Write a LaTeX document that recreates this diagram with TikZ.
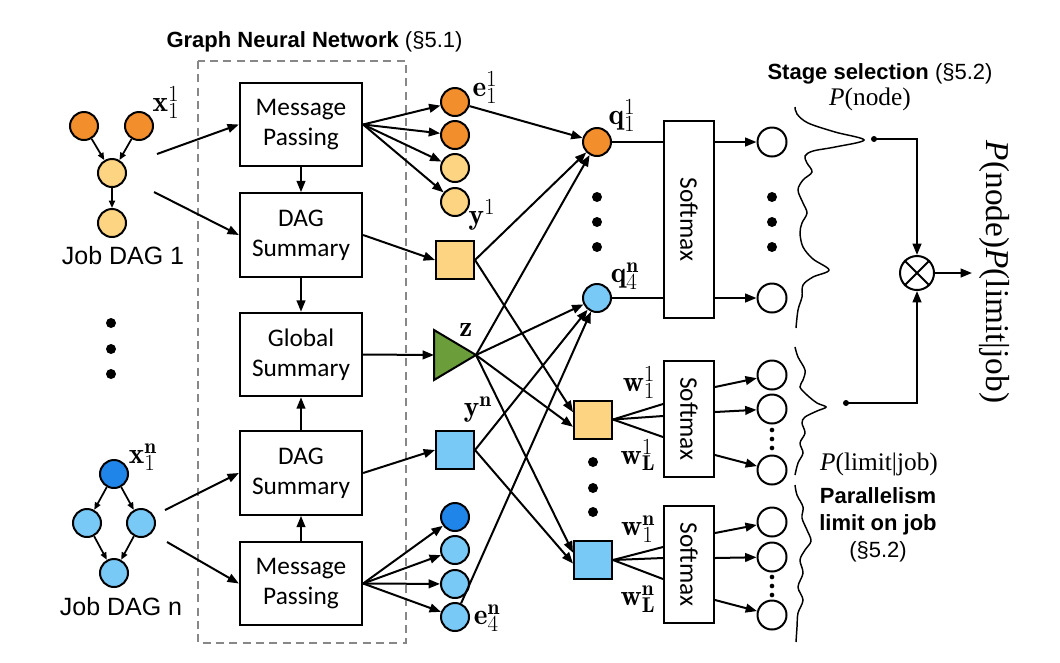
\documentclass[tikz,border=0pt]{standalone}
\usepackage{fontspec}
\usetikzlibrary{arrows.meta,calc}
\newfontfamily\carl{Carlito}
\newfontfamily\arialf{Liberation Sans}
\newfontfamily\tnr{Liberation Serif}
\DeclareMathSizes{22}{22}{16}{12}
\definecolor{dorange}{RGB}{242,142,43}
\definecolor{lorange}{RGB}{253,212,130}
\definecolor{lblue}{RGB}{121,201,246}
\definecolor{dblue}{RGB}{31,133,232}
\definecolor{tgreen}{RGB}{107,158,58}
\definecolor{dashgray}{RGB}{135,135,135}
\begin{document}
\begin{tikzpicture}[x=0.75pt,y=-0.75pt,
  gnnbox/.style={draw, line width=1.7pt, minimum width=91.5pt, minimum height=62.5pt, align=center, inner sep=0pt, font=\carl\fontsize{19}{22.5}\selectfont},
  smbox/.style={draw, line width=1.5pt, minimum width=37.5pt, inner sep=0pt},
  vn/.style={circle, draw, line width=1.5pt, minimum size=21pt, inner sep=0pt},
  outn/.style={circle, draw, line width=1.5pt, minimum size=21.75pt, inner sep=0pt, fill=white},
  sq/.style={draw, line width=1.5pt, minimum size=28.5pt, inner sep=0pt},
  conn/.style={line width=1.5pt, -{Triangle[length=8.5pt,width=6.5pt]}},
  plainln/.style={line width=1.5pt},
  dagarrow/.style={line width=1.3pt, -{Triangle[length=5.5pt,width=4.5pt]}},
  bigdot/.style={circle, fill, inner sep=0pt, minimum size=7.5pt},
  smalldot/.style={circle, fill, inner sep=0pt, minimum size=3.5pt},
  enddot/.style={circle, fill, inner sep=0pt, minimum size=4.5pt},
  lbl/.style={font=\fontsize{22}{24}\selectfont, inner sep=0pt},
  sanslbl/.style={font=\arialf\fontsize{18.75}{22}\selectfont, inner sep=0pt},
  boldlbl/.style={font=\arialf\fontsize{16.5}{20.25}\selectfont, align=center, inner sep=0pt},
  serlbl/.style={font=\tnr\fontsize{19}{22}\selectfont, inner sep=0pt},
  smtext/.style={rotate=-90, font=\carl\fontsize{19}{22}\selectfont, inner sep=0pt},
  wave/.style={line width=1.1pt}
]
\useasboundingbox (0,0) rectangle (1060,662);

% title
\node[boldlbl] (title) at (314.5,42) {\bfseries Graph Neural Network \mdseries(§5.1)};
% dashed frame
\draw[dashgray, line width=1.5pt, dash pattern=on 6pt off 4pt] (198,61) rectangle (406,643);

% GNN boxes
\node[gnnbox] (MP1) at (301,124.5) {Message\\Passing};
\node[gnnbox] (DS1) at (301,235) {DAG\\Summary};
\node[gnnbox] (GS) at (301,354.5) {Global\\Summary};
\node[gnnbox] (DSn) at (301,473) {DAG\\Summary};
\node[gnnbox] (MPn) at (301,583.5) {Message\\Passing};
\draw[conn] (MP1) -- (DS1);
\draw[conn] (DS1) -- (GS);
\draw[conn] (DSn) -- (GS);
\draw[conn] (MPn) -- (DSn);

% Job DAG 1
\node[vn, fill=dorange] (a1) at (84,126) {};
\node[vn, fill=dorange] (a2) at (139,126) {};
\node[vn, fill=lorange] (a3) at (112,173) {};
\node[vn, fill=lorange] (a4) at (112,223) {};
\draw[dagarrow] (a1) -- (a3);
\draw[dagarrow] (a2) -- (a3);
\draw[dagarrow] (a3) -- (a4);
\node[lbl] (x11) at (166,103) {$\mathbf{x}_1^1$};
\node[sanslbl] (jd1) at (123,256) {Job DAG 1};

% dots
\node[bigdot] (ld1) at (111,323) {};
\node[bigdot] (ld2) at (111,349) {};
\node[bigdot] (ld3) at (111,374) {};

% Job DAG n
\node[vn, fill=dblue] (b1) at (114,474) {};
\node[vn, fill=lblue] (b2) at (87,523) {};
\node[vn, fill=lblue] (b3) at (141,523) {};
\node[vn, fill=lblue] (b4) at (114,573) {};
\draw[dagarrow] (b1) -- (b2);
\draw[dagarrow] (b1) -- (b3);
\draw[dagarrow] (b2) -- (b4);
\draw[dagarrow] (b3) -- (b4);
\node[lbl] (x1n) at (143,457) {$\mathbf{x}_1^{\mathbf{n}}$};
\node[sanslbl] (jdn) at (121,607) {Job DAG n};

% inputs to GNN
\coordinate (s1a) at (157,154);
\coordinate (s1b) at (154,192);
\coordinate (sna) at (165,510);
\coordinate (snb) at (167,542);
\draw[conn] (s1a) -- (MP1.west);
\draw[conn] (s1b) -- (DS1.west);
\draw[conn] (sna) -- (DSn.west);
\draw[conn] (snb) -- (MPn.west);

% node embeddings
\node[vn, fill=dorange] (e1) at (455,102) {};
\node[vn, fill=dorange] (e2) at (455,135) {};
\node[vn, fill=lorange] (e3) at (455,168) {};
\node[vn, fill=lorange] (e4) at (455,202) {};
\foreach \n in {e1,e2,e3,e4} \draw[conn] (MP1.east) -- (\n);
\node[lbl] (le1) at (485,88) {$\mathbf{e}_1^1$};

\node[vn, fill=dblue] (f1) at (455,517) {};
\node[vn, fill=lblue] (f2) at (455,550) {};
\node[vn, fill=lblue] (f3) at (455,584) {};
\node[vn, fill=lblue] (f4) at (455,617) {};
\foreach \n in {f1,f2,f3,f4} \draw[conn] (MPn.east) -- (\n);
\node[lbl] (lf4) at (487,618) {$\mathbf{e}_4^{\mathbf{n}}$};

% DAG summaries
\node[sq, fill=lorange] (y1) at (455,260) {};
\node[sq, fill=lblue] (yn) at (455,450) {};
\draw[conn] (DS1.east) -- (y1.west);
\draw[conn] (DSn.east) -- (yn.west);
\node[lbl] (ly1) at (482,215) {$\mathbf{y}^1$};
\node[lbl] (lyn) at (478,410) {$\mathbf{y}^{\mathbf{n}}$};

% global summary triangle
\coordinate (zL) at (434,355);
\coordinate (zA) at (476,355);
\filldraw[fill=tgreen, line width=1.5pt, line join=miter] (434,330) -- (zA) -- (434,380) -- cycle;
\draw[conn] (GS.east) -- (zL);
\node[lbl] (lz) at (466,330) {$\mathbf{z}$};

% q nodes
\node[vn, fill=dorange] (q1) at (597,142) {};
\node[vn, fill=lblue] (qn) at (597,298) {};
\node[lbl] (lq1) at (622,116) {$\mathbf{q}_1^1$};
\node[lbl] (lqn) at (625,276) {$\mathbf{q}_4^{\mathbf{n}}$};
\node[bigdot] (qd1) at (597,197) {};
\node[bigdot] (qd2) at (597,222) {};
\node[bigdot] (qd3) at (597,247) {};

\draw[conn] (e1) -- (q1);
\draw[conn] (y1.east) -- (q1);
\draw[conn] (zA) -- (q1);
\draw[conn] (zA) -- (qn);
\draw[conn] (yn.east) -- (qn);
\draw[conn] (f4) -- (qn);

% w squares
\node[sq, fill=lorange] (w1) at (593,419.5) {};
\node[sq, fill=lblue] (wn) at (593,560) {};
\draw[conn] (y1.east) -- (w1.160);
\draw[conn] (zA) -- (w1.200);
\draw[conn] (zA) -- (wn.160);
\draw[conn] (yn.east) -- (wn.190);
\node[bigdot] (wd1) at (593,462) {};
\node[bigdot] (wd2) at (593,488) {};
\node[bigdot] (wd3) at (593,512) {};
\node[lbl] (lw11) at (639,383) {$\mathbf{w}_1^1$};
\node[lbl] (lwL1) at (638,455) {$\mathbf{w}_{\mathbf{L}}^1$};
\node[lbl] (lw1n) at (638,529) {$\mathbf{w}_1^{\mathbf{n}}$};
\node[lbl] (lwLn) at (638,599) {$\mathbf{w}_{\mathbf{L}}^{\mathbf{n}}$};

% softmax boxes
\node[smbox, minimum height=147.75pt] (S1) at (689,219.5) {};
\node[smtext] at (S1) {Softmax};
\node[smbox, minimum height=87pt] (S2) at (689,419) {};
\node[smtext] at (S2) {Softmax};
\node[smbox, minimum height=87.75pt] (S3) at (689,564.5) {};
\node[smtext] at (S3) {Softmax};

\draw[plainln] (q1) -- (q1 -| S1.west);
\draw[plainln] (qn) -- (qn -| S1.west);
\draw[plainln] (w1.east) -- ($(S2.west)+(0,-15)$);
\draw[plainln] (w1.east) -- ($(S2.west)+(0,-3)$);
\draw[plainln] (w1.east) -- ($(S2.west)+(0,18)$);
\draw[plainln] (wn.east) -- ($(S3.west)+(0,-17.5)$);
\draw[plainln] (wn.east) -- ($(S3.west)+(0,-6.5)$);
\draw[plainln] (wn.east) -- ($(S3.west)+(0,14.5)$);

% outputs
\node[outn] (o1) at (772,142) {};
\node[outn] (o2) at (772,298) {};
\draw[conn] (S1.east |- o1) -- (o1);
\draw[conn] (S1.east |- o2) -- (o2);
\node[bigdot] (od1) at (772,197) {};
\node[bigdot] (od2) at (772,222) {};
\node[bigdot] (od3) at (772,247) {};

\node[outn] (o21) at (772,375) {};
\node[outn] (o22) at (772,409) {};
\node[outn] (o23) at (772,470) {};
\draw[conn] ($(S2.east)+(0,-32)$) -- (o21);
\draw[conn] ($(S2.east)+(0,-7)$) -- (o22);
\draw[conn] ($(S2.east)+(0,36)$) -- (o23);
\node[smalldot] (sd1) at (772,430) {};
\node[smalldot] (sd2) at (772,439) {};
\node[smalldot] (sd3) at (772,448) {};

\node[outn] (o31) at (772,522) {};
\node[outn] (o32) at (772,557) {};
\node[outn] (o33) at (772,615) {};
\draw[conn] ($(S3.east)+(0,-31.5)$) -- (o31);
\draw[conn] ($(S3.east)+(0,-6.5)$) -- (o32);
\draw[conn] ($(S3.east)+(0,35.5)$) -- (o33);
\node[smalldot] (td1) at (772,577) {};
\node[smalldot] (td2) at (772,586) {};
\node[smalldot] (td3) at (772,595) {};

% distributions
\draw[wave] plot[smooth, tension=0.55] coordinates {(795,107) (797,114) (808,123) (835,132) (864,140) (835,147) (813,151) (805,156) (807,163) (812,172) (803,180) (798,190) (803,203) (807,213) (802,223) (800,233) (803,247) (813,259) (829,270) (813,277) (803,285) (802,297) (798,310) (796,328)};
\draw[wave] plot[smooth, tension=0.55] coordinates {(795,347) (798,357) (805,370) (803,380) (800,387) (807,395) (817,403) (826,407) (817,411) (805,417) (802,423) (805,433) (800,443) (803,453) (798,463) (795,475)};
\draw[wave] plot[smooth, tension=0.55] coordinates {(795,485) (797,495) (803,507) (802,518) (807,530) (811,541) (805,550) (800,560) (803,573) (798,587) (803,600) (798,613) (797,627) (796,642)};

\node[boldlbl] (stage) at (880,74) {\bfseries Stage selection \mdseries(§5.2)};
\node[serlbl] (pnode) at (870,99) {\textit{P}(node)};
\node[serlbl] (plim) at (879,464) {\textit{P}(limit|job)};
\node[boldlbl] (par) at (878,525) {\bfseries Parallelism\\\bfseries limit on job\\(§5.2)};

% combination
\node[circle, draw, line width=1.5pt, minimum size=25.5pt, inner sep=0pt] (ox) at (917,273) {};
\draw[line width=1.5pt] (ox.45) -- (ox.225) (ox.135) -- (ox.315);
\node[enddot] (pd1) at (874,139) {};
\node[enddot] (pd2) at (846,403) {};
\draw[conn] (pd1.center) -| (ox);
\draw[conn] (pd2.center) -| (ox);
\coordinate (oxe) at (972,273);
\draw[conn] (ox) -- (oxe);
\node[rotate=-90, font=\tnr\fontsize{25}{28}\selectfont, inner sep=0pt] (res) at (994,272) {\textit{P}(node)\textit{P}(limit|job)};
\end{tikzpicture}
\end{document}
